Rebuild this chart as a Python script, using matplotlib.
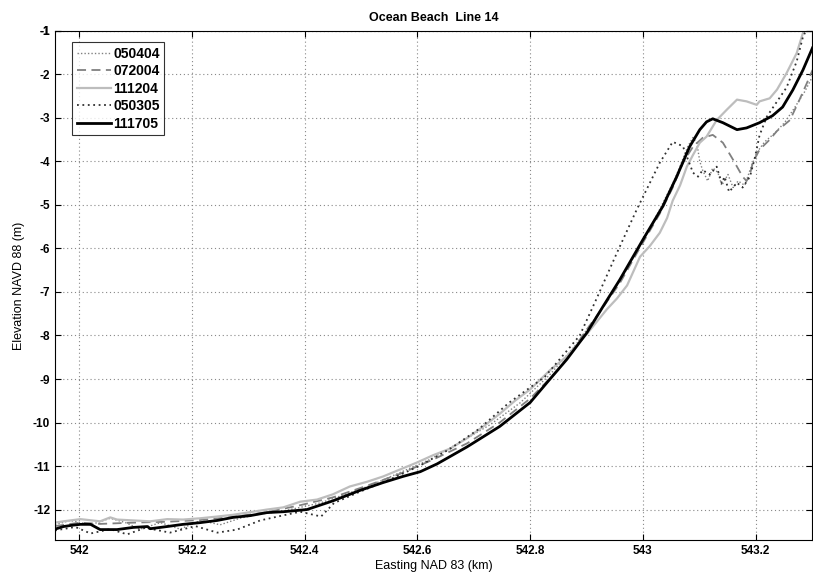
import numpy as np
import matplotlib
matplotlib.use('Agg')
import matplotlib.pyplot as plt
from matplotlib.ticker import FuncFormatter

plt.rcParams['font.family'] = ['Liberation Sans', 'DejaVu Sans']

# profile 111705 (thick black)
x_111705 = [541.957, 541.972, 541.988, 542.002, 542.020, 542.037, 542.067, 542.096, 542.121, 542.126,
            542.156, 542.184, 542.215, 542.245, 542.273, 542.303, 542.333, 542.362, 542.404, 542.450,
            542.498, 542.539, 542.574, 542.605, 542.635, 542.688, 542.746, 542.800, 542.830, 542.865,
            542.901, 542.929, 542.959, 543.000, 543.035, 543.060, 543.083, 543.101, 543.113, 543.124,
            543.142, 543.167, 543.184, 543.207, 543.230, 543.248, 543.266, 543.284, 543.301]
y_111705 = [-12.45, -12.39, -12.36, -12.34, -12.34, -12.46, -12.46, -12.41, -12.39, -12.44,
            -12.39, -12.34, -12.30, -12.25, -12.18, -12.14, -12.07, -12.05, -12.00, -11.80,
            -11.56, -11.38, -11.24, -11.13, -10.95, -10.56, -10.09, -9.54, -9.08, -8.55,
            -7.93, -7.34, -6.72, -5.80, -5.04, -4.35, -3.66, -3.27, -3.09, -3.02,
            -3.11, -3.27, -3.23, -3.11, -2.95, -2.75, -2.36, -1.90, -1.39]

# profile 111204 (light grey solid)
x_111204 = [541.957, 541.972, 542.002, 542.037, 542.055, 542.067, 542.096, 542.126, 542.156, 542.184,
            542.215, 542.245, 542.273, 542.303, 542.333, 542.362, 542.392, 542.422, 542.450, 542.480,
            542.511, 542.539, 542.569, 542.599, 542.628, 542.658, 542.688, 542.716, 542.746, 542.773,
            542.800, 542.835, 542.865, 542.901, 542.936, 542.954, 542.972, 542.995, 543.012, 543.030,
            543.043, 543.053, 543.066, 543.078, 543.089, 543.101, 543.113, 543.131, 543.149, 543.167,
            543.184, 543.202, 543.207, 543.225, 543.238, 543.255, 543.273, 543.284, 543.291]
y_111204 = [-12.30, -12.27, -12.22, -12.27, -12.18, -12.23, -12.25, -12.27, -12.22, -12.23,
            -12.20, -12.16, -12.12, -12.06, -12.00, -11.95, -11.82, -11.77, -11.65, -11.47,
            -11.36, -11.24, -11.08, -10.92, -10.75, -10.60, -10.36, -10.10, -9.80, -9.50,
            -9.24, -8.80, -8.48, -7.96, -7.40, -7.15, -6.85, -6.19, -5.95, -5.64,
            -5.30, -4.90, -4.55, -4.12, -3.85, -3.57, -3.43, -3.05, -2.81, -2.58,
            -2.62, -2.70, -2.62, -2.55, -2.35, -1.97, -1.51, -1.05, -0.85]

# profile 072004 (dashed)
x_072004 = [541.957, 542.002, 542.037, 542.096, 542.156, 542.215, 542.273, 542.333, 542.392, 542.450,
            542.511, 542.569, 542.628, 542.688, 542.746, 542.800, 542.853, 542.904, 542.924, 542.959,
            542.995, 543.030, 543.053, 543.071, 543.089, 543.106, 543.124, 543.142, 543.160, 543.177,
            543.184, 543.190, 543.195, 543.207, 543.225, 543.238, 543.261, 543.278, 543.291, 543.301]
y_072004 = [-12.38, -12.30, -12.33, -12.30, -12.28, -12.24, -12.17, -12.06, -11.90, -11.72,
            -11.45, -11.18, -10.85, -10.48, -10.00, -9.45, -8.75, -7.80, -7.45, -6.80,
            -5.98, -5.20, -4.60, -4.03, -3.66, -3.46, -3.39, -3.57, -3.96, -4.35,
            -4.45, -4.30, -4.03, -3.73, -3.50, -3.30, -3.05, -2.58, -2.20, -1.90]

# profile 050404 (light dotted)
x_050404 = [541.957, 541.984, 542.020, 542.055, 542.082, 542.108, 542.144, 542.179, 542.215, 542.250,
            542.285, 542.321, 542.356, 542.392, 542.427, 542.472, 542.516, 542.569, 542.622, 542.676,
            542.729, 542.782, 542.835, 542.879, 542.924, 542.959, 542.995, 543.030, 543.057, 543.080,
            543.089, 543.096, 543.101, 543.106, 543.115, 543.124, 543.133, 543.140, 543.151, 543.160,
            543.169, 543.181, 543.190, 543.202, 543.216, 543.234, 543.252, 543.270, 543.287, 543.301]
y_050404 = [-12.35, -12.25, -12.35, -12.20, -12.30, -12.45, -12.30, -12.45, -12.25, -12.35,
            -12.20, -12.10, -12.05, -11.95, -11.85, -11.65, -11.45, -11.15, -10.85, -10.45,
            -10.05, -9.55, -8.90, -8.25, -7.45, -6.75, -5.95, -5.10, -4.40, -3.65,
            -3.45, -3.60, -4.00, -4.20, -4.45, -4.15, -4.25, -4.55, -4.30, -4.60,
            -4.45, -4.55, -4.20, -3.80, -3.55, -3.35, -3.10, -2.75, -2.40, -2.05]

# profile 050305 (dark dotted)
x_050305 = [541.957, 541.993, 542.020, 542.055, 542.085, 542.117, 542.161, 542.206, 542.245, 542.280,
            542.321, 542.356, 542.392, 542.429, 542.452, 542.496, 542.549, 542.603, 542.656, 542.709,
            542.762, 542.826, 542.862, 542.888, 542.918, 542.954, 542.989, 543.030, 543.053, 543.071,
            543.089, 543.098, 543.106, 543.119, 543.131, 543.140, 543.145, 543.153, 543.167, 543.177,
            543.190, 543.199, 543.207, 543.220, 543.234, 543.255, 543.273, 543.284, 543.293]
y_050305 = [-12.48, -12.40, -12.55, -12.45, -12.57, -12.42, -12.53, -12.38, -12.53, -12.46,
            -12.25, -12.15, -12.05, -12.16, -11.85, -11.60, -11.32, -11.00, -10.62, -10.15,
            -9.55, -8.95, -8.40, -8.00, -7.15, -6.10, -5.11, -4.03, -3.55, -3.65,
            -4.26, -4.35, -4.20, -4.30, -4.12, -4.50, -4.35, -4.70, -4.49, -4.60,
            -4.35, -3.90, -3.40, -2.97, -2.70, -2.30, -1.70, -1.14, -0.90]

labels = ['050404', '072004', '111204', '050305', '111705']
xticks = [542, 542.2, 542.4, 542.6, 542.8, 543, 543.2]
yticks = list(range(-12, 0))

fig = plt.figure(figsize=(8.13, 5.74), dpi=100)
ax = fig.add_axes([0.0677, 0.0592, 0.931, 0.887])

ax.plot(x_050404, y_050404, color='#808080', linestyle=(0, (1, 1.5)), lw=1.0, label=labels[0])
ax.plot(x_072004, y_072004, color='#808080', linestyle=(0, (5, 3)), lw=1.3, label=labels[1])
ax.plot(x_111204, y_111204, color='#bdbdbd', linestyle='-', lw=1.6, label=labels[2])
ax.plot(x_050305, y_050305, color='#303030', linestyle=(0, (1, 2)), lw=1.3, label=labels[3])
ax.plot(x_111705, y_111705, color='black', linestyle='-', lw=2.0, label=labels[4])

ax.set_xlim(541.957, 543.3)
ax.set_ylim(-12.7, -1)
ax.set_xticks(xticks)
ax.set_yticks(yticks + [-1])
ax.xaxis.set_major_formatter(FuncFormatter(lambda v, p: '%g' % round(v, 1)))
ax.yaxis.set_major_formatter(FuncFormatter(lambda v, p: '%d' % v))
ax.tick_params(direction='in', top=True, right=True, length=4, labelsize=8.5)
for lab in ax.get_xticklabels() + ax.get_yticklabels():
    lab.set_fontweight('bold')
ax.grid(True, linestyle=(0, (1, 2.5)), color='#888888', lw=0.8)

ax.set_title('Ocean Beach  Line 14', fontsize=9, fontweight='bold', pad=7)
ax.set_xlabel('Easting NAD 83 (km)', fontsize=9, labelpad=2)
ax.set_ylabel('Elevation NAVD 88 (m)', fontsize=9, labelpad=6)

leg = ax.legend(loc='upper left', bbox_to_anchor=(0.0225, 0.978), borderaxespad=0, fontsize=10,
                frameon=True, fancybox=False, edgecolor='black', handlelength=2.5,
                handletextpad=0.15, labelspacing=0.26, borderpad=0.32)
leg.get_frame().set_linewidth(0.8)
for t in leg.get_texts():
    t.set_fontweight('bold')

fig.savefig('out.png', dpi=100)
